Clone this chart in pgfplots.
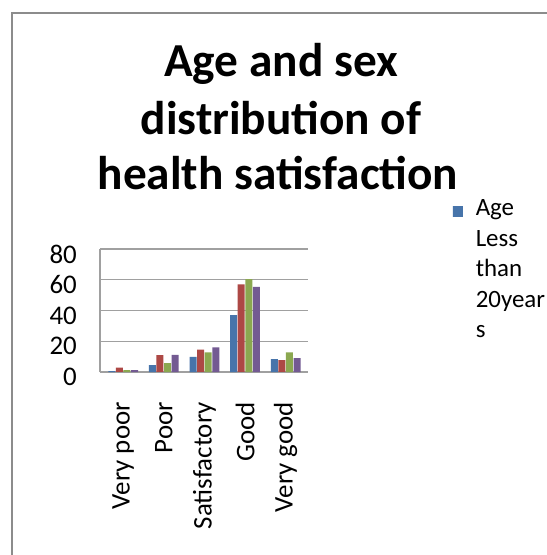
\documentclass[border=0pt]{standalone}
\usepackage{pgfplots}
\pgfplotsset{compat=1.18}
\usepackage{fontspec}
\setmainfont{Carlito}
\definecolor{cblue}{HTML}{4F81BD}
\definecolor{cred}{HTML}{C0504D}
\definecolor{cgreen}{HTML}{9BBB59}
\definecolor{cpurple}{HTML}{8064A2}
\definecolor{framegray}{HTML}{8C8C8C}
\definecolor{gridgray}{HTML}{A0A0A0}
\begin{document}
\begin{tikzpicture}
\useasboundingbox (0,0) rectangle (547bp,555bp);
\clip (0,0) rectangle (547bp,555bp);
\fill[white] (0,0) rectangle (547bp,555bp);
\draw[framegray,line width=2.5bp] (12bp,-5bp) -- (12bp,542bp) -- (560bp,542bp);
\node[font=\fontsize{47.5}{56}\selectfont\bfseries,anchor=base] at (281bp,478bp) {Age and sex};
\node[font=\fontsize{47.5}{56}\selectfont\bfseries,anchor=base] at (281bp,420bp) {distribution of};
\node[font=\fontsize{47.5}{56}\selectfont\bfseries,anchor=base] at (278bp,365bp) {health satisfaction};
\begin{axis}[
  at={(100bp,183bp)}, anchor=south west,
  scale only axis, width=208bp, height=123bp,
  xmin=-0.57, xmax=4.55, ymin=0, ymax=80,
  ybar=0.6bp, bar width=7bp,
  xtick={0,1,2,3,4},
  xticklabels={Very poor,Poor,Satisfactory,Good,Very good},
  ytick={0,20,40,60,80},
  major tick length=0pt,
  axis x line*=bottom, axis y line*=left,
  axis line style={gridgray,line width=1.2bp},
  ymajorgrids, grid style={gridgray,line width=1.2bp},
  /pgf/number format/assume math mode=true,
  tick label style={font=\fontsize{27}{32}\selectfont},
  yticklabel style={anchor=east,inner sep=0pt,xshift=-23bp,yshift=-5bp},
  xticklabel style={yshift=-30bp,rotate=90,anchor=east,inner sep=0pt},
  legend style={at={(1.695,1.40)},anchor=north west,draw=none,fill=none,
    font=\fontsize{25}{30.5}\selectfont, inner sep=0pt,
    nodes={inner sep=0pt, anchor=base west}},
  legend image code/.code={\fill[#1] (0bp,-1bp) rectangle (10bp,9bp);},
  clip=false,
]
\addplot[draw=none, left color=cblue!90!black, middle color=cblue!70!white, right color=cblue!90!black] coordinates {(0,0.5) (1,4.4) (2,9.9) (3,37) (4,8.4)};
\addlegendentry{\parbox[t]{90bp}{\hspace*{13bp}Age\\\hspace*{13bp}Less\\\hspace*{13bp}than\\\hspace*{13bp}20year\\\hspace*{13bp}s}}
\addplot[draw=none, left color=cred!90!black, middle color=cred!70!white, right color=cred!90!black] coordinates {(0,2.9) (1,11) (2,14.5) (3,57) (4,7.7)};
\addplot[draw=none, left color=cgreen!90!black, middle color=cgreen!70!white, right color=cgreen!90!black] coordinates {(0,1.3) (1,5.7) (2,12.7) (3,60.4) (4,12.7)};
\addplot[draw=none, left color=cpurple!90!black, middle color=cpurple!70!white, right color=cpurple!90!black] coordinates {(0,1.3) (1,11.2) (2,16) (3,55.4) (4,9)};
\end{axis}
\end{tikzpicture}
\end{document}
